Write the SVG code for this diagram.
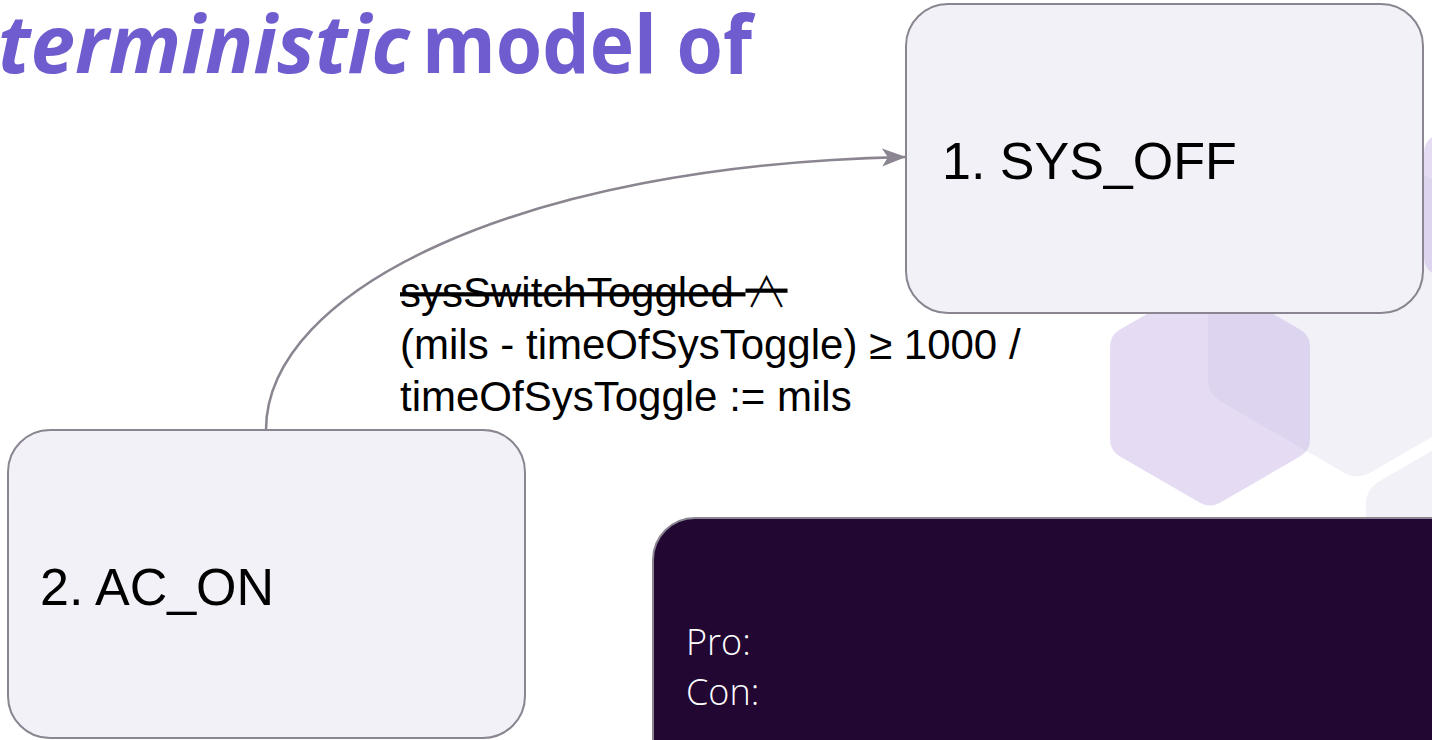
<svg xmlns="http://www.w3.org/2000/svg" width="1432" height="740" viewBox="0 0 1432 740">
  <style>
    .title { font-family: "Open Sans", "Noto Sans", sans-serif; font-weight: 700; font-size: 80px; fill: #6f5dcf; }
    .state rect { fill: #f2f1f7; stroke: #8a8590; stroke-width: 2; }
    .state text { font-family: "Liberation Sans", Arial, sans-serif; font-size: 52px; fill: #000; }
    .edge { fill: none; stroke: #8a8590; stroke-width: 2.5; }
    .label { font-family: "Liberation Sans", Arial, sans-serif; font-size: 42px; fill: #000; }
    .sym { font-family: "Noto Sans CJK JP", "DejaVu Sans", sans-serif; font-weight: 300; }
    .note { font-family: "Open Sans", "Noto Sans", sans-serif; font-weight: 300; font-size: 36px; fill: #ffffff; }
    .hex-grey { fill: #f2f1f7; stroke: #f2f1f7; stroke-width: 50; stroke-linejoin: round; }
    .hex-lav { fill: #bba3e4; stroke: #bba3e4; stroke-width: 40; stroke-linejoin: round; }
  </style>
  <defs>
    <marker id="arrow" viewBox="0 0 24 20" refX="23" refY="10" markerWidth="24" markerHeight="20" markerUnits="userSpaceOnUse" orient="auto">
      <path d="M0,1 L24,10 L0,19 L6,10 Z" fill="#8a8590"/>
    </marker>
  </defs>

  <rect width="1432" height="740" fill="#ffffff"/>

  <!-- decorative honeycomb in the background -->
  <g id="background">
    <polygon class="hex-grey" points="1357,165 1481,236.6 1481,379.8 1357,451.4 1233,379.8 1233,236.6"/>
    <polygon class="hex-grey" points="1515,431.8 1639,503.4 1639,646.6 1515,718.2 1391,646.6 1391,503.4"/>
    <g opacity="0.37">
      <polygon class="hex-lav" points="1210,300.6 1290,346.8 1290,439.2 1210,485.4 1130,439.2 1130,346.8"/>
    </g>
    <g opacity="0.37">
      <polygon class="hex-lav" points="1534,101 1624,153 1624,257 1534,309 1444,257 1444,153"/>
    </g>
  </g>

  <!-- slide heading -->
  <g id="heading">
    <text class="title" x="410" y="73" text-anchor="end" font-style="italic">Deterministic</text>
    <text class="title" x="422" y="73" textLength="330" lengthAdjust="spacingAndGlyphs">model of</text>
  </g>

  <!-- transitions -->
  <g id="connectors">
    <path class="edge" d="M266,430 C266,290 520,165 905,157" marker-end="url(#arrow)"/>
    <text class="label" x="400" y="307" text-decoration="line-through">sysSwitchToggled <tspan class="sym">∧</tspan></text>
    <text class="label" x="400" y="359">(mils - timeOfSysToggle) ≥ 1000 /</text>
    <text class="label" x="400" y="411">timeOfSysToggle := mils</text>
  </g>

  <!-- states -->
  <g id="state-sys-off" class="state">
    <rect x="906" y="4" width="517" height="309" rx="42" ry="42"/>
    <text x="942" y="179">1. SYS_OFF</text>
  </g>
  <g id="state-ac-on" class="state">
    <rect x="8" y="430" width="517" height="308" rx="42" ry="42"/>
    <text x="40" y="605">2. AC_ON</text>
  </g>

  <!-- pro / con panel -->
  <g id="pro-con-panel">
    <rect x="653" y="518" width="840" height="300" rx="42" ry="42" fill="#220733" stroke="#8a8590" stroke-width="2"/>
    <text class="note" x="686" y="655">Pro:</text>
    <text class="note" x="686" y="705">Con:</text>
  </g>
</svg>
